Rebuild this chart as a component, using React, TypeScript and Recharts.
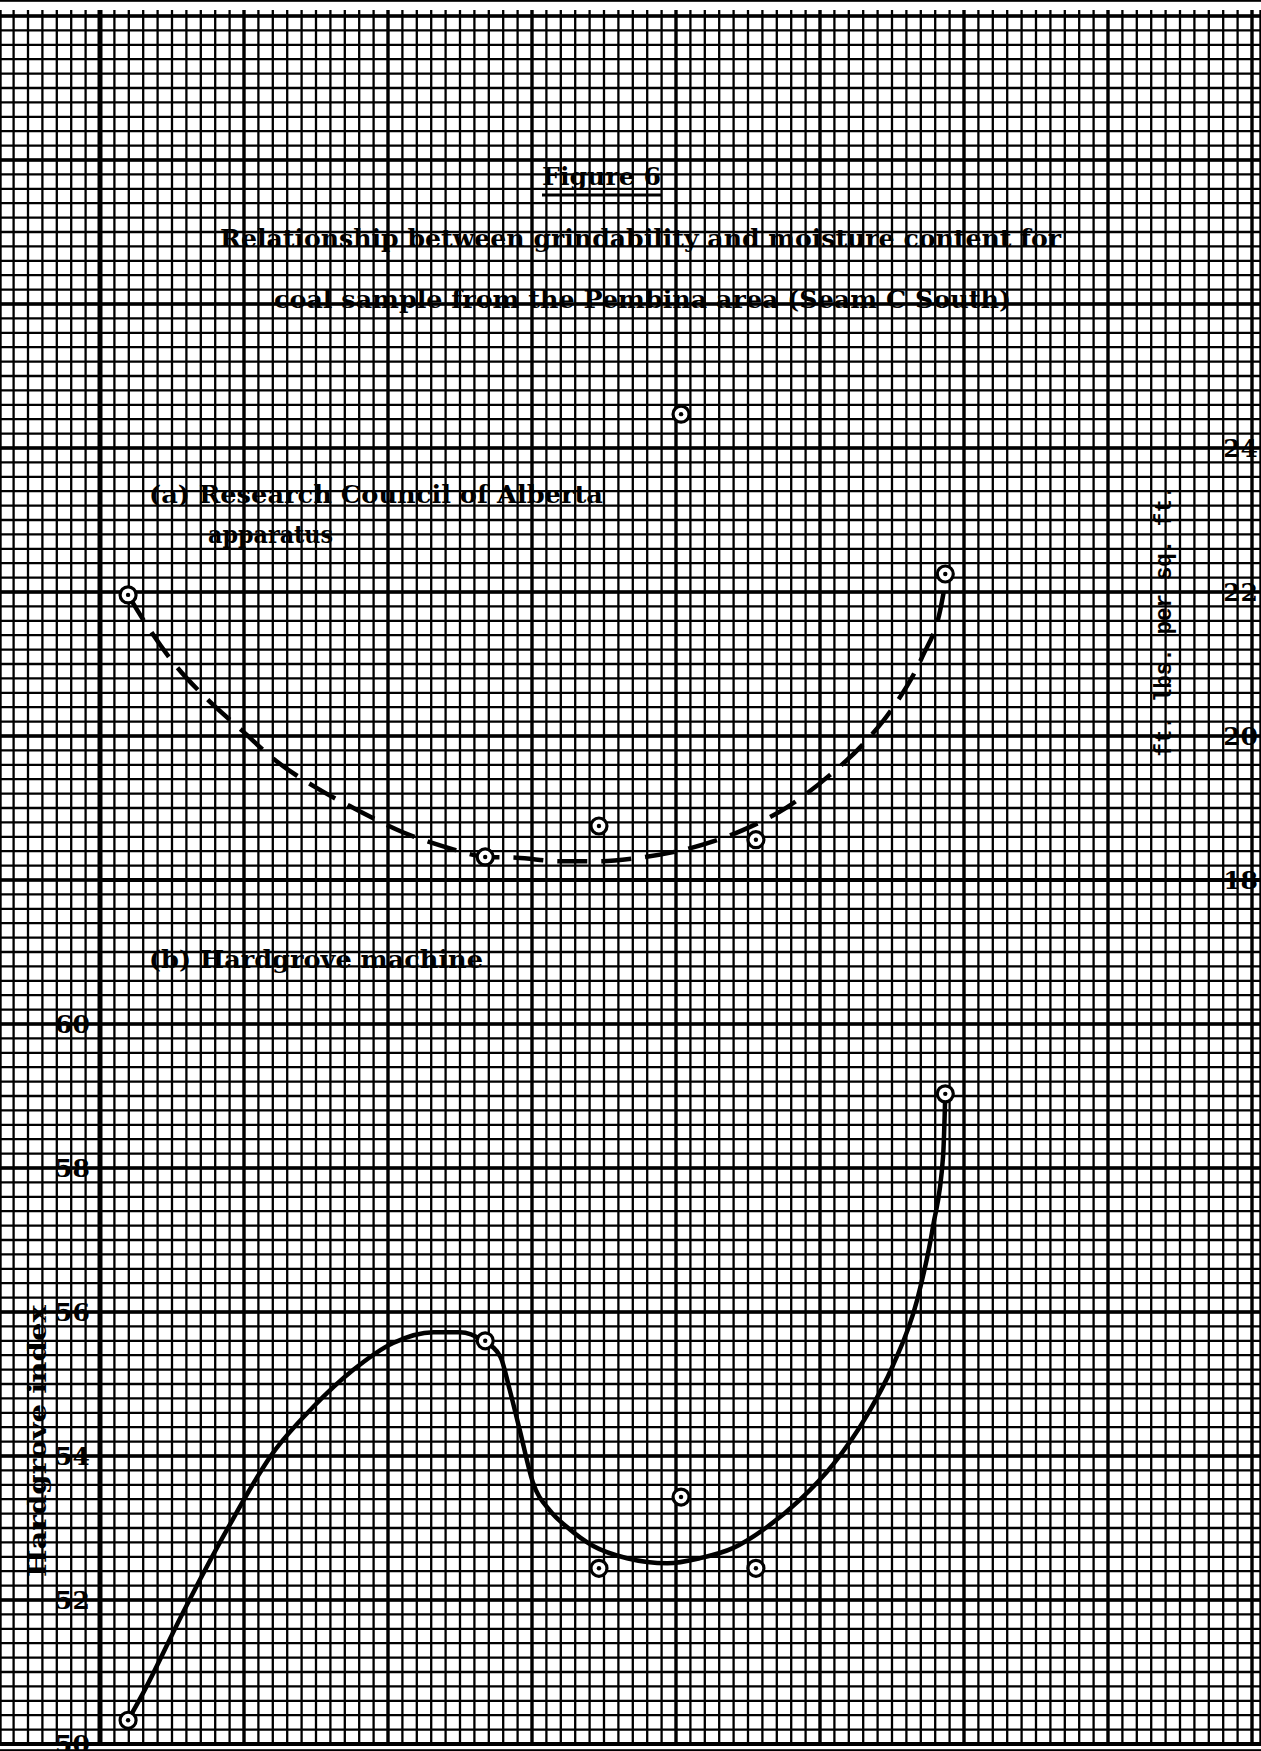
import React from 'react';
import {
  ComposedChart,
  XAxis,
  YAxis,
  CartesianGrid,
  Line,
  Scatter,
  ReferenceLine,
} from 'recharts';

// ---- data ----
// moisture content of the six coal samples (x positions, grid units: 5 small squares = 1)
const moisture = [0.39, 5.35, 6.93, 8.07, 9.11, 11.74];
// (a) Research Council of Alberta apparatus, ft. lbs. per sq. ft.
const impactValues = [21.96, 18.32, 18.75, 24.47, 18.56, 22.25];
// (b) Hardgrove machine, Hardgrove index
const hardgroveValues = [50.33, 55.6, 52.44, 53.43, 52.44, 59.03];

// hand-drawn dashed curve for (a)
const curveAx = [0.39, 0.61, 1.01, 1.46, 1.99, 2.4, 2.99, 3.54, 4.19, 4.79, 5.38, 5.79, 6.39, 6.94, 7.5, 8.19, 8.92, 9.54, 10.14, 10.63, 11.01, 11.42, 11.67, 11.76];
const curveAy = [21.96, 21.6, 21.03, 20.54, 20.06, 19.69, 19.29, 18.99, 18.67, 18.46, 18.32, 18.31, 18.26, 18.26, 18.31, 18.44, 18.69, 19.01, 19.46, 19.92, 20.39, 21.1, 21.75, 22.24];

// hand-drawn solid curve for (b)
const curveBx = [0.39, 0.6, 1.15, 1.76, 2.4, 2.96, 3.51, 4.07, 4.63, 5.0, 5.32, 5.56, 5.69, 5.83, 6.01, 6.25, 6.49, 6.85, 7.32, 7.88, 8.33, 8.79, 9.26, 9.72, 10.18, 10.65, 11.01, 11.35, 11.57, 11.71, 11.74];
const curveBy = [50.33, 50.71, 51.82, 52.97, 54.04, 54.68, 55.19, 55.57, 55.72, 55.72, 55.6, 55.38, 54.92, 54.36, 53.64, 53.24, 53.01, 52.75, 52.58, 52.51, 52.58, 52.72, 53.01, 53.39, 53.88, 54.56, 55.25, 56.17, 57.19, 58.17, 59.03];

const hardgroveTicks = [50, 52, 54, 56, 58, 60];
const impactTicks = [18, 20, 22, 24];

// ---- derived tables for the library ----
const pointsA = moisture.map((x, i) => ({ x, ft: impactValues[i] }));
const pointsB = moisture.map((x, i) => ({ x, hgi: hardgroveValues[i] }));
const lineA = curveAx.map((x, i) => ({ x, ft: curveAy[i] }));
const lineB = curveBx.map((x, i) => ({ x, hgi: curveBy[i] }));

// graph-paper rulings: small square = 0.2 x-units; heavy every 2 x-units
const minorX: number[] = [];
for (let i = -6; i <= 80; i++) minorX.push(i / 5);
const majorX: number[] = [];
for (let i = 0; i <= 16; i += 2) majorX.push(i);
// horizontal rulings in small squares from the divider
const minorY: number[] = [];
for (let i = -60; i <= 60; i++) minorY.push(i);
const majorY: number[] = [];
for (let i = -60; i <= 60; i += 10) majorY.push(i);

const W = 1261;
const H = 1751;
const X_DOMAIN: [number, number] = [-100 / 72, 1161 / 72];
const GY_DOMAIN: [number, number] = [-871 / 14.4, 880 / 14.4];

const serif = 'DejaVu Serif';

const Ring = (props: any) => {
  const { cx, cy } = props;
  if (cx == null || cy == null) return null;
  return (
    <g>
      <circle cx={cx} cy={cy} r={8} fill="#fff" stroke="#000" strokeWidth={3.2} />
      <circle cx={cx} cy={cy} r={2.2} fill="#000" />
    </g>
  );
};

const tickStyle = { fill: '#000', fontSize: 25, fontFamily: serif, fontWeight: 'bold' as const };

export default function App() {
  return (
    <div style={{ position: 'absolute', left: 0, top: 0, width: W, height: H, background: '#fff' }}>
      <ComposedChart width={W} height={H} margin={{ top: 0, right: 0, bottom: 0, left: 0 }}>
        {/* x axes: "m" carries the curves + minor rulings, "M" carries the points + heavy rulings */}
        <XAxis xAxisId="m" type="number" dataKey="x" domain={X_DOMAIN} ticks={minorX} interval={0} hide allowDataOverflow />
        <XAxis xAxisId="M" type="number" dataKey="x" domain={X_DOMAIN} ticks={majorX} interval={0} hide allowDataOverflow />
        {/* graph paper y rulings */}
        <YAxis yAxisId="gy" type="number" domain={GY_DOMAIN} ticks={minorY} interval={0} hide allowDataOverflow />
        <YAxis yAxisId="gY" type="number" domain={GY_DOMAIN} ticks={majorY} interval={0} hide allowDataOverflow />
        <CartesianGrid xAxisId="m" yAxisId="gy" x={0} y={10} width={W} height={1734} stroke="#000" strokeWidth={2.3} />
        <CartesianGrid xAxisId="M" yAxisId="gY" x={0} y={10} width={W} height={1734} stroke="#000" strokeWidth={3.3} />

        {/* value axes */}
        <YAxis
          yAxisId="hgi"
          orientation="left"
          mirror
          type="number"
          domain={[50 - 7 / 72, 50 + 1744 / 72]}
          ticks={hardgroveTicks}
          allowDataOverflow
          axisLine={false}
          tickLine={false}
          tickSize={0}
          tickMargin={55}
          tick={tickStyle}
          interval={0}
        />
        <YAxis
          yAxisId="ft"
          orientation="right"
          mirror
          type="number"
          domain={[18 - 871 / 72, 18 + 880 / 72]}
          ticks={impactTicks}
          allowDataOverflow
          axisLine={false}
          tickLine={false}
          tickSize={0}
          tickMargin={3}
          tick={tickStyle}
          interval={0}
        />

        {/* heavy rules: y axis, panel divider, base line */}
        <ReferenceLine
          xAxisId="m"
          yAxisId="hgi"
          segment={[{ x: 0, y: 50 }, { x: 0, y: 50 + 1734 / 72 }]}
          stroke="#000"
          strokeWidth={5}
        />
        <ReferenceLine
          xAxisId="m"
          yAxisId="ft"
          segment={[{ x: 0, y: 18 }, { x: 1161 / 72, y: 18 }]}
          stroke="#000"
          strokeWidth={4}
        />
        <ReferenceLine
          xAxisId="m"
          yAxisId="hgi"
          segment={[{ x: -100 / 72, y: 50 }, { x: 1161 / 72, y: 50 }]}
          stroke="#000"
          strokeWidth={4}
        />

        {/* curves */}
        <Line
          xAxisId="m"
          yAxisId="ft"
          data={lineA}
          dataKey="ft"
          type="monotone"
          stroke="#000"
          strokeWidth={4.5}
          strokeDasharray="30 14"
          dot={false}
          activeDot={false}
          isAnimationActive={false}
        />
        <Line
          xAxisId="m"
          yAxisId="hgi"
          data={lineB}
          dataKey="hgi"
          type="monotone"
          stroke="#000"
          strokeWidth={4.5}
          dot={false}
          activeDot={false}
          isAnimationActive={false}
        />

        {/* observations */}
        <Scatter xAxisId="M" yAxisId="ft" data={pointsA} dataKey="ft" shape={Ring} isAnimationActive={false} />
        <Scatter xAxisId="M" yAxisId="hgi" data={pointsB} dataKey="hgi" shape={Ring} isAnimationActive={false} />
      </ComposedChart>

      <svg
        width={W}
        height={H}
        style={{ position: 'absolute', left: 0, top: 0, pointerEvents: 'none' }}
      >
        <g fill="#000" fontFamily={serif} fontSize={25} fontWeight="bold">
          <text x={542} y={185} textLength={119} lengthAdjust="spacingAndGlyphs">Figure 6</text>
          <text x={220} y={247} textLength={841} lengthAdjust="spacingAndGlyphs">
            Relationship between grindability and moisture content for
          </text>
          <text x={274} y={308} textLength={737} lengthAdjust="spacingAndGlyphs">
            coal sample from the Pembina area (Seam C South)
          </text>
          <text x={149} y={503} textLength={454} lengthAdjust="spacingAndGlyphs">
            (a) Research Council of Alberta
          </text>
          <text x={208} y={543} textLength={125} lengthAdjust="spacingAndGlyphs">apparatus</text>
          <text x={149} y={968} textLength={334} lengthAdjust="spacingAndGlyphs">
            (b) Hardgrove machine
          </text>
          <text
            x={46}
            y={1441}
            transform="rotate(-90 46 1441)"
            textAnchor="middle"
            textLength={272}
            lengthAdjust="spacingAndGlyphs"
          >
            Hardgrove index
          </text>
        </g>
        <line x1={542} x2={661} y1={195} y2={195} stroke="#000" strokeWidth={3} />
        <text
          x={1171}
          y={621}
          transform="rotate(-90 1171 621)"
          textAnchor="middle"
          fontFamily="Liberation Mono"
          fontWeight="bold"
          fontSize={24}
          fill="#000"
          textLength={271}
          lengthAdjust="spacingAndGlyphs"
        >
          ft. lbs. per sq. ft.
        </text>
      </svg>
    </div>
  );
}
